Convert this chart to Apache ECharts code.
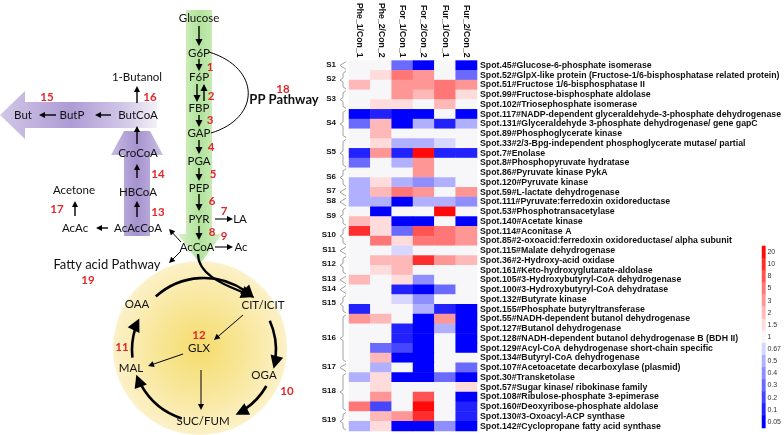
<!DOCTYPE html>
<html><head><meta charset="utf-8">
<script src="https://cdn.jsdelivr.net/npm/echarts@6/dist/echarts.min.js"></script>
<style>html,body{margin:0;padding:0;background:#fff}#c{width:784px;height:435px}</style>
</head><body><div id="c"></div>
<script>
// ---------------- DATA ----------------
const columns = ['Phe_1/Con_1','Phe_2/Con_2','For_1/Con_1','For_2/Con_2','Fur_1/Con_1','Fur_2/Con_2'];
const spots = [
 'Spot.45#Glucose-6-phosphate isomerase',
 'Spot.52#GlpX-like protein (Fructose-1/6-bisphosphatase related protein)',
 'Spot.51#Fructose 1/6-bisphosphatase II',
 'Spot.99#Fructose-bisphosphate aldolase',
 'Spot.102#Triosephosphate isomerase',
 'Spot.117#NADP-dependent glyceraldehyde-3-phosphate dehydrogenase',
 'Spot.131#Glyceraldehyde 3-phosphate dehydrogenase/ gene gapC',
 'Spot.89#Phosphoglycerate kinase',
 'Spot.33#2/3-Bpg-independent phosphoglycerate mutase/ partial',
 'Spot.7#Enolase',
 'Spot.8#Phosphopyruvate hydratase',
 'Spot.86#Pyruvate kinase PykA',
 'Spot.120#Pyruvate kinase',
 'Spot.59#L-lactate dehydrogenase',
 'Spot.111#Pyruvate:ferredoxin oxidoreductase',
 'Spot.53#Phosphotransacetylase',
 'Spot.140#Acetate kinase',
 'Spot.114#Aconitase A',
 'Spot.85#2-oxoacid:ferredoxin oxidoreductase/ alpha subunit',
 'Spot.115#Malate dehydrogenase',
 'Spot.36#2-Hydroxy-acid oxidase',
 'Spot.161#Keto-hydroxyglutarate-aldolase',
 'Spot.105#3-Hydroxybutyryl-CoA dehydrogenase',
 'Spot.100#3-Hydroxybutyryl-CoA dehydratase',
 'Spot.132#Butyrate kinase',
 'Spot.155#Phosphate butyryltransferase',
 'Spot.55#NADH-dependent butanol dehydrogenase',
 'Spot.127#Butanol dehydrogenase',
 'Spot.128#NADH-dependent butanol dehydrogenase B (BDH II)',
 'Spot.129#Acyl-CoA dehydrogenase short-chain specific',
 'Spot.134#Butyryl-CoA dehydrogenase',
 'Spot.107#Acetoacetate decarboxylase (plasmid)',
 'Spot.30#Transketolase',
 'Spot.57#Sugar kinase/ ribokinase family',
 'Spot.108#Ribulose-phosphate 3-epimerase',
 'Spot.160#Deoxyribose-phosphate aldolase',
 'Spot.130#3-Oxoacyl-ACP synthase',
 'Spot.142#Cyclopropane fatty acid synthase'
];
// fold changes per spot: [Phe_1, Phe_2, For_1, For_2, Fur_1, Fur_2]
const foldChanges = [
 [1, 1, 0.25, 0.03, 1, 0.03],
 [1, 1.7, 6, 4, 1, 0.25],
 [2.5, 1, 4, 4, 6, 4],
 [1, 1, 4, 2.5, 6, 1.7],
 [1, 1.7, 1.7, 1, 2.5, 1],
 [0.03, 0.07, 0.03, 0.03, 1, 0.03],
 [0.25, 2.5, 0.03, 0.45, 0.07, 0.45],
 [1, 2.5, 1, 1, 1, 1],
 [1, 1.7, 0.45, 0.45, 0.6, 1],
 [0.07, 4, 0.07, 25, 0.07, 0.07],
 [0.25, 1, 0.45, 4, 1, 1],
 [1, 1, 1, 4, 1, 1],
 [0.45, 1.7, 0.45, 0.35, 0.45, 1],
 [0.45, 2.5, 6, 4, 1, 4],
 [0.45, 0.45, 0.03, 0.45, 0.45, 0.35],
 [1, 0.03, 1, 1, 25, 1],
 [2.5, 1.7, 0.03, 0.03, 1, 0.03],
 [15, 1.7, 0.25, 9, 6, 4],
 [1, 6, 1.7, 6, 6, 4],
 [1, 1, 0.6, 1, 1, 1],
 [1, 2.5, 2.5, 15, 4, 2.5],
 [1, 1.7, 2.5, 1, 1, 1],
 [2.5, 1, 1.7, 0.35, 1, 1],
 [1, 1, 0.07, 0.03, 0.25, 1],
 [1, 1, 0.6, 0.35, 1, 1],
 [0.07, 1, 1, 0.45, 0.07, 0.03],
 [4, 2.5, 1, 0.03, 4, 0.03],
 [1, 1, 0.07, 0.03, 0.45, 0.03],
 [1, 1, 0.07, 0.03, 1, 0.03],
 [1, 0.25, 0.15, 0.03, 1, 0.03],
 [1, 2.5, 0.03, 0.03, 1, 1],
 [1, 0.45, 1, 0.03, 1, 0.25],
 [0.45, 1.7, 0.03, 0.03, 0.25, 0.03],
 [1, 1.7, 1, 1, 1, 1.7],
 [1, 4, 1, 9, 1, 0.03],
 [6, 0.15, 1, 25, 1, 0.07],
 [1, 2.5, 4, 15, 1, 0.07],
 [0.45, 1.7, 0.03, 0.03, 0.35, 0.03]
];
// spot groups: [label, firstRow, lastRow]
const groups = [
 ['S1',0,0],['S2',1,2],['S3',3,4],['S4',5,7],['S5',8,10],['S6',11,12],['S7',13,13],
 ['S8',14,14],['S9',15,16],['S10',17,18],['S11',19,19],['S12',20,21],['S13',22,22],
 ['S14',23,23],['S15',24,25],['S16',26,30],['S17',31,31],['S18',32,35],['S19',36,37]
];
const scaleLabels = ['20','10','8','5','3','2','1.5','1','0.67','0.5','0.4','0.3','0.2','0.1','0.05'];
const scaleValues = [20,10,8,5,3,2,1.5,1,0.67,0.5,0.4,0.3,0.2,0.1,0.05];

// ---------------- CHART ----------------
const chart = echarts.init(document.getElementById('c'));
const hmData = [];
foldChanges.forEach((row, r) => row.forEach((v, c) => hmData.push([c, r, v])));
const scaleData = scaleValues.map((v, i) => [0, i, v]);
const LF = '"Liberation Sans", Arial, sans-serif';
const DF = 'Lato, "Open Sans", sans-serif';

chart.setOption({
  animation: false,
  grid: [
    {left: 349, top: 55, width: 133, height: 376},
    {left: 762, top: 246, width: 8, height: 182}
  ],
  xAxis: [
    {type: 'category', data: columns, gridIndex: 0, position: 'top',
     axisLine: {show: false}, axisTick: {show: false}, splitLine: {show: false},
     axisLabel: {rotate: 90, interval: 0, fontSize: 8.7, fontWeight: 'bold', fontFamily: LF, color: '#111', margin: 3}},
    {type: 'category', data: ['c'], gridIndex: 1, show: false}
  ],
  yAxis: [
    {type: 'category', data: spots, gridIndex: 0, inverse: true, position: 'right',
     axisLine: {show: false}, axisTick: {show: false}, splitLine: {show: false},
     axisLabel: {interval: 0, fontSize: 8.75, fontWeight: 'bold', fontFamily: LF, color: '#111', margin: 3}},
    {type: 'category', data: scaleLabels, gridIndex: 1, inverse: true, position: 'right',
     axisLine: {show: false}, axisTick: {show: false}, splitLine: {show: false},
     axisLabel: {interval: 0, fontSize: 7, fontFamily: LF, color: '#333', margin: 2}}
  ],
  visualMap: {
    type: 'piecewise', show: false, seriesIndex: [0, 1],
    pieces: [
      {gte: 20, color: '#ff0a0a'},
      {gte: 10, lt: 20, color: '#ff2e2e'},
      {gte: 8, lt: 10, color: '#ff5252'},
      {gte: 5, lt: 8, color: '#ff7676'},
      {gte: 3, lt: 5, color: '#ff9696'},
      {gte: 2, lt: 3, color: '#ffb8b8'},
      {gte: 1.5, lt: 2, color: '#ffdcdc'},
      {gt: 0.67, lt: 1.5, color: '#f7f7f9'},
      {gt: 0.5, lte: 0.67, color: '#d6d6ff'},
      {gt: 0.4, lte: 0.5, color: '#b0b0ff'},
      {gt: 0.3, lte: 0.4, color: '#8e8eff'},
      {gt: 0.2, lte: 0.3, color: '#6a6aff'},
      {gt: 0.1, lte: 0.2, color: '#4646ff'},
      {gt: 0.05, lte: 0.1, color: '#2222ff'},
      {lte: 0.05, color: '#0000ff'}
    ]
  },
  series: [
    {type: 'heatmap', xAxisIndex: 0, yAxisIndex: 0, data: hmData, silent: true, itemStyle: {borderWidth: 0}},
    {type: 'heatmap', xAxisIndex: 1, yAxisIndex: 1, data: scaleData, silent: true, itemStyle: {borderWidth: 0}}
  ]
});

// ---------------- DIAGRAM & ANNOTATIONS ----------------
const G = [];
function txt(t, x, y, font, fill, align) {
  G.push({type: 'text', silent: true, z: 10, style: {text: t, x: x, y: y, font: font, fill: fill || '#111',
    textAlign: align || 'center', textVerticalAlign: 'middle', align: align || 'center', verticalAlign: 'middle'}});
}
function head(px, py, ux, uy, hl, hw) {
  const bx = px - ux * hl, by = py - uy * hl;
  G.push({type: 'polygon', silent: true, z: 9, shape: {points: [[px, py], [bx - uy * hw, by + ux * hw], [bx + uy * hw, by - ux * hw]]}, style: {fill: '#000'}});
  return [bx, by];
}
function arrow(x1, y1, x2, y2, w, hl, hw) {
  w = w || 1.2; hl = hl || 6; hw = hw || 3;
  const dx = x2 - x1, dy = y2 - y1, L = Math.hypot(dx, dy), ux = dx / L, uy = dy / L;
  const b = head(x2, y2, ux, uy, hl, hw);
  G.push({type: 'line', silent: true, z: 9, shape: {x1: x1, y1: y1, x2: b[0] + ux, y2: b[1] + uy}, style: {stroke: '#000', lineWidth: w}});
}
// background shapes
G.push({type: 'polygon', silent: true, z: 1,
  shape: {points: [[186, 10], [212, 10], [212, 234], [222, 234], [200, 264], [178, 234], [186, 234]]},
  style: {fill: new echarts.graphic.LinearGradient(0, 0, 1, 0, [{offset: 0, color: '#d8f2c8'}, {offset: 0.5, color: '#b1e29b'}, {offset: 1, color: '#d8f2c8'}])}});
G.push({type: 'circle', silent: true, z: 1, shape: {cx: 200, cy: 348, r: 87},
  style: {fill: new echarts.graphic.RadialGradient(0.5, 0.5, 0.5, [{offset: 0, color: '#f5dc6c'}, {offset: 0.55, color: '#f8e79c'}, {offset: 1, color: '#fcf1c8'}])}});
G.push({type: 'polygon', silent: true, z: 1,
  shape: {points: [[124, 131], [150, 131], [163, 155], [150, 155], [150, 236], [124, 236], [124, 155], [111, 155]]},
  style: {fill: new echarts.graphic.LinearGradient(0, 0, 1, 0, [{offset: 0, color: '#c8bbe2'}, {offset: 0.5, color: '#a592cf'}, {offset: 1, color: '#cbbfe4'}])}});
G.push({type: 'polygon', silent: true, z: 2,
  shape: {points: [[0, 115], [25, 91], [25, 102], [157, 102], [157, 128], [25, 128], [25, 139]]},
  style: {fill: new echarts.graphic.LinearGradient(0, 0, 1, 0, [{offset: 0, color: '#d2c7e7'}, {offset: 0.45, color: '#ad9bd5'}, {offset: 0.8, color: '#d3c9e8'}, {offset: 1, color: '#f3f0f8'}])}});

// labels
const F = '11.5px ' + DF;
[['Glucose',199,18],['G6P',199,53],['F6P',199,77],['FBP',199,108],['GAP',199,133],['PGA',199,161],
 ['PEP',199,188],['PYR',199,219],['AcCoA',197,247],['LA',240,219],['Ac',241,247],['1-Butanol',137,77],
 ['But',23,115],['ButP',72,115],['ButCoA',138,115],['CroCoA',138,153],['HBCoA',138,192],['AcAcCoA',138,228],
 ['Acetone',74,190],['AcAc',75,228],['OAA',137,304],['CIT/ICIT',263,305],['GLX',199,348],['MAL',131,368],
 ['OGA',264,375],['SUC/FUM',203,421]].forEach(a => txt(a[0], a[1], a[2], F));
txt('Fatty acid Pathway', 107, 265, '13px ' + DF);
txt('PP Pathway', 284, 100, 'bold 13px ' + DF);
const RF = 'bold 11.5px ' + DF;
[['1',210,67],['2',211,96],['3',210,120],['4',211,147],['5',213,174],['6',212,201],['7',224,211],['8',212,232],
 ['9',224,236],['10',287,391],['11',122,347],['12',199,335],['13',158,212],['14',158,174],['15',47,97],
 ['16',150,97],['17',57,209],['18',283,89],['19',88,280]].forEach(a => txt(a[0], a[1], a[2], RF, '#e3262a'));

// straight arrows
const A = 1.4;
arrow(199, 26, 199, 46, A, 7, 3.5);
arrow(199, 59, 199, 71, A, 7, 3.5);
arrow(197, 84, 197, 102, A, 7, 3.5);
arrow(204, 101, 204, 84, A, 7, 3.5);
arrow(199, 115, 199, 127, A, 7, 3.5);
arrow(199, 140, 199, 154, A, 7, 3.5);
arrow(199, 168, 199, 181, A, 7, 3.5);
arrow(199, 194, 199, 211, A, 7, 3.5);
arrow(199, 226, 199, 240, A, 7, 3.5);
arrow(215, 219, 233, 219, 1.1, 6, 3);
arrow(215, 247, 233, 247, 1.1, 6, 3);
arrow(137, 103, 137, 86, A, 6, 3);
arrow(111, 115, 95, 115, A, 6, 3);
arrow(56, 115, 39, 115, A, 6, 3);
arrow(137, 144, 137, 126, A, 6, 3);
arrow(137, 178, 137, 164, A, 6, 3);
arrow(137, 217, 137, 201, A, 6, 3);
arrow(108, 228, 96, 228, A, 6, 3);
arrow(75, 216, 75, 201, A, 6, 3);
arrow(181, 242, 169, 229, 1, 6, 3);
arrow(181, 251, 169, 263, 1, 6, 3);
arrow(243, 315, 214, 340, 1, 6, 3);
arrow(183, 354, 148, 366, 1, 6, 3);
arrow(201, 370, 201, 410, 1, 6, 3);

// PP pathway curve
G.push({type: 'bezierCurve', silent: true, z: 9,
  shape: {x1: 209, y1: 52, cpx1: 261, cpy1: 68, cpx2: 261, cpy2: 118, x2: 211, y2: 133},
  style: {stroke: '#000', lineWidth: 1, fill: null}});

// TCA arcs
const cx = 204, cy = 350, R = 72, HL = 13, HW = 6.5;
function arcArrow(a0, a1) {
  const r0 = a0 * Math.PI / 180, r1 = a1 * Math.PI / 180;
  const px = cx + R * Math.cos(r1), py = cy + R * Math.sin(r1);
  head(px, py, -Math.sin(r1), Math.cos(r1), HL, HW);
  G.push({type: 'arc', silent: true, z: 9, shape: {cx: cx, cy: cy, r: R, startAngle: r0, endAngle: r1 - (HL * 0.85) / R, clockwise: true},
    style: {stroke: '#000', lineWidth: 2.6, fill: null}});
}
arcArrow(-132, -46);
arcArrow(-24, 15);
arcArrow(30, 64);
arcArrow(108, 160);
arcArrow(174, 206);
// AcCoA -> CIT curve
(function () {
  const ex = 254, ey = 297, c2x = 228, c2y = 286;
  const dx = ex - c2x, dy = ey - c2y, L = Math.hypot(dx, dy);
  const b = head(ex, ey, dx / L, dy / L, HL, HW);
  G.push({type: 'bezierCurve', silent: true, z: 9,
    shape: {x1: 198, y1: 254, cpx1: 198, cpy1: 276, cpx2: c2x, cpy2: c2y, x2: b[0] + dx / L * 2, y2: b[1] + dy / L * 2},
    style: {stroke: '#000', lineWidth: 2.2, fill: null}});
})();

// group labels and braces from the heatmap axis
const half = chart.convertToPixel({gridIndex: 0}, [0, 1])[1] - chart.convertToPixel({gridIndex: 0}, [0, 0])[1];
groups.forEach(g => {
  const y0 = chart.convertToPixel({gridIndex: 0}, [0, g[1]])[1] - half / 2 + 1;
  const y1 = chart.convertToPixel({gridIndex: 0}, [0, g[2]])[1] + half / 2 - 1;
  const ym = (y0 + y1) / 2, x = 343;
  G.push({type: 'polyline', silent: true, z: 5,
    shape: {points: [[x + 3, y0], [x, y0 + 2], [x, ym - 2], [x - 3, ym], [x, ym + 2], [x, y1 - 2], [x + 3, y1]]},
    style: {stroke: '#8a8a8a', lineWidth: 0.8, fill: null}});
  txt(g[0], 336, ym - 1, 'bold 8px ' + LF, '#111', 'right');
});

chart.setOption({graphic: {elements: G}});
</script>
</body></html>
